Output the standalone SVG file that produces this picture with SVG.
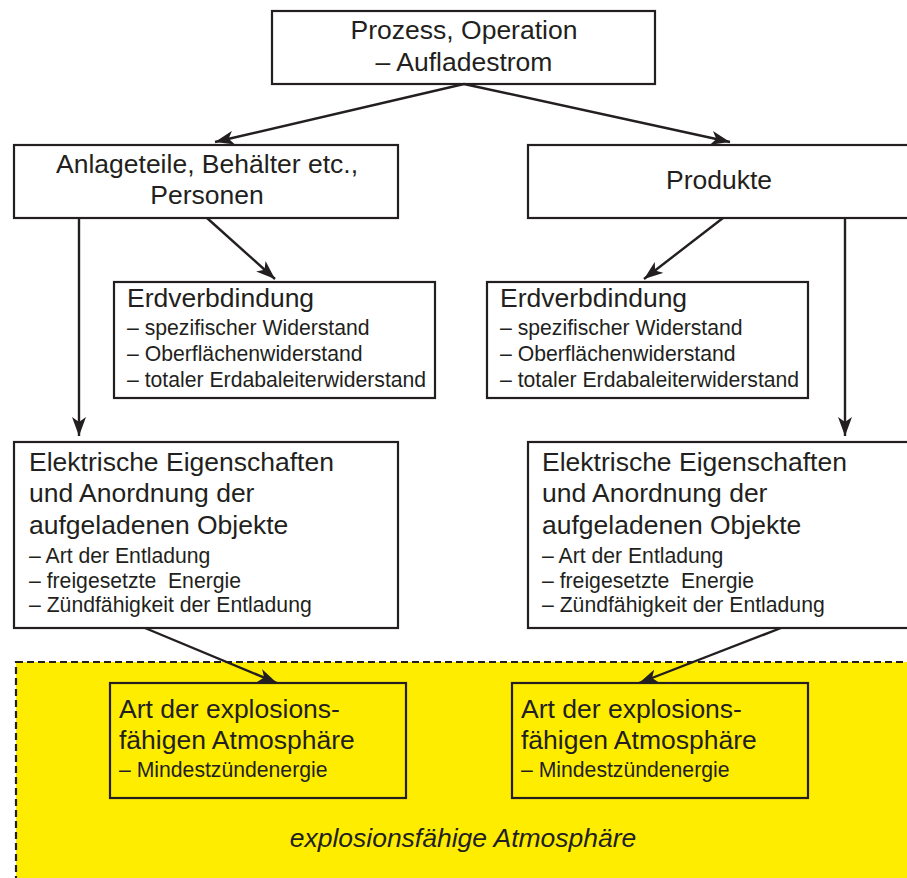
<svg xmlns="http://www.w3.org/2000/svg" width="907" height="878" viewBox="0 0 907 878">
<defs>
<style>
.box{fill:#fff;stroke:#231f20;stroke-width:2.2}
.ybox{fill:none;stroke:#231f20;stroke-width:2.2}
.t{font-family:"Liberation Sans",Arial,Helvetica,sans-serif;fill:#231f20}
.b{font-size:26.5px}
.s{font-size:21.2px}
.c{text-anchor:middle}
.con{stroke:#231f20;stroke-width:2.4;fill:none;marker-end:url(#ah)}
</style>
<marker id="ah" markerUnits="userSpaceOnUse" markerWidth="20" markerHeight="14" viewBox="0 0 20 14" refX="19" refY="7" orient="auto">
<path d="M0,0 L19,7 L0,14 L5,7 z" fill="#231f20"/>
</marker>
</defs>
<rect width="907" height="878" fill="#fff"/>
<g id="zone">
<rect x="16" y="662" width="910" height="240" fill="#ffed00" stroke="#231f20" stroke-width="2.2" stroke-dasharray="7 4"/>
<text class="t b c" x="463" y="847" font-style="italic">explosionsfähige Atmosphäre</text>
</g>
<g id="n-prozess">
<rect class="box" x="272" y="11" width="383" height="73"/>
<text class="t b c" x="464" y="39">Prozess, Operation</text>
<text class="t b c" x="464" y="71">– Aufladestrom</text>
</g>
<g id="n-anlage">
<rect class="box" x="14" y="145" width="384" height="73"/>
<text class="t b c" x="207" y="173">Anlageteile, Behälter etc.,</text>
<text class="t b c" x="207" y="204">Personen</text>
</g>
<g id="n-produkte">
<rect class="box" x="528" y="145" width="400" height="73"/>
<text class="t b c" x="719" y="189">Produkte</text>
</g>
<g id="n-erd1">
<rect class="box" x="114" y="282" width="321" height="116"/>
<text class="t b" x="127" y="307">Erdverbdindung</text>
<text class="t s" x="127" y="335">– spezifischer Widerstand</text>
<text class="t s" x="127" y="361">– Oberflächenwiderstand</text>
<text class="t s" x="127" y="387">– totaler Erdabaleiterwiderstand</text>
</g>
<g id="n-erd2">
<rect class="box" x="487" y="282" width="321" height="116"/>
<text class="t b" x="500" y="307">Erdverbdindung</text>
<text class="t s" x="500" y="335">– spezifischer Widerstand</text>
<text class="t s" x="500" y="361">– Oberflächenwiderstand</text>
<text class="t s" x="500" y="387">– totaler Erdabaleiterwiderstand</text>
</g>
<g id="n-elek1">
<rect class="box" x="14" y="442" width="384" height="186"/>
<text class="t b" x="29" y="471">Elektrische Eigenschaften</text>
<text class="t b" x="29" y="502">und Anordnung der</text>
<text class="t b" x="29" y="534">aufgeladenen Objekte</text>
<text class="t s" x="29" y="563">– Art der Entladung</text>
<text class="t s" x="29" y="588" xml:space="preserve">– freigesetzte  Energie</text>
<text class="t s" x="29" y="612">– Zündfähigkeit der Entladung</text>
</g>
<g id="n-elek2">
<rect class="box" x="528" y="442" width="400" height="186"/>
<text class="t b" x="542" y="471">Elektrische Eigenschaften</text>
<text class="t b" x="542" y="502">und Anordnung der</text>
<text class="t b" x="542" y="534">aufgeladenen Objekte</text>
<text class="t s" x="542" y="563">– Art der Entladung</text>
<text class="t s" x="542" y="588" xml:space="preserve">– freigesetzte  Energie</text>
<text class="t s" x="542" y="612">– Zündfähigkeit der Entladung</text>
</g>
<g id="n-art1">
<rect class="ybox" x="110" y="683" width="296" height="115"/>
<text class="t b" x="119" y="718">Art der explosions-</text>
<text class="t b" x="119" y="749">fähigen Atmosphäre</text>
<text class="t s" x="119" y="777">– Mindestzündenergie</text>
</g>
<g id="n-art2">
<rect class="ybox" x="512" y="683" width="296" height="115"/>
<text class="t b" x="521" y="718">Art der explosions-</text>
<text class="t b" x="521" y="749">fähigen Atmosphäre</text>
<text class="t s" x="521" y="777">– Mindestzündenergie</text>
</g>
<g id="connectors">
<line class="con" x1="464" y1="84" x2="215" y2="142"/>
<line class="con" x1="464" y1="84" x2="730" y2="142"/>
<line class="con" x1="207" y1="218" x2="275" y2="279"/>
<line class="con" x1="723" y1="218" x2="644" y2="279"/>
<line class="con" x1="79" y1="218" x2="79" y2="436"/>
<line class="con" x1="845" y1="218" x2="845" y2="436"/>
<line class="con" x1="145" y1="628" x2="277" y2="683"/>
<line class="con" x1="781" y1="628" x2="639" y2="683"/>
</g>
</svg>
